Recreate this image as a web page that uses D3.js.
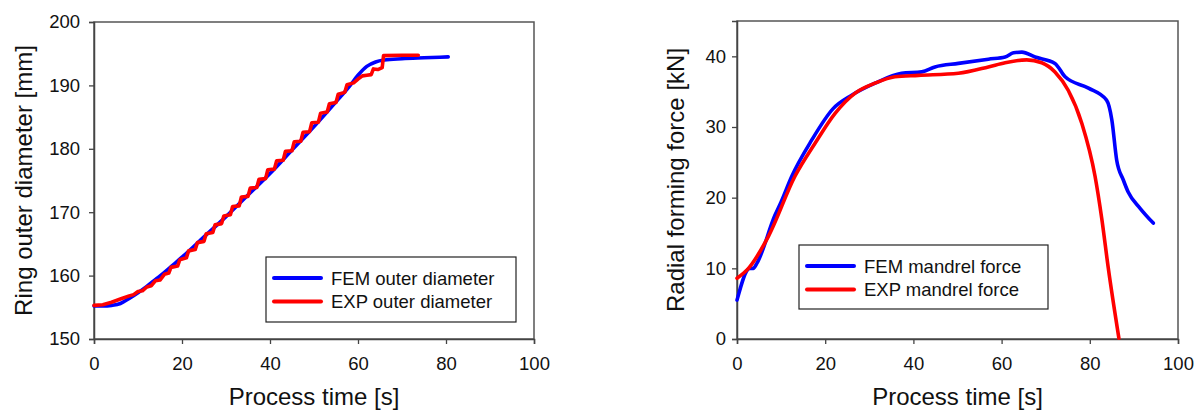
<!DOCTYPE html>
<html lang='en'>
<head>
    <meta charset='UTF-8'>
    <title>Ring rolling: diameter and mandrel force</title>
    <script src='https://d3js.org/d3.v7.min.js'></script>
    <style>
      body { margin: 0; background: #fff; }
      svg text { font-family: 'Liberation Sans', Arial, sans-serif; fill: #111; }
    </style>
</head>
<body>
<svg width='1199' height='412'></svg>

<script>
// ---- data ----
const timeTicks = [0, 20, 40, 60, 80, 100]
const diaTicks = [150, 160, 170, 180, 190, 200]
const forceTicks = [0, 10, 20, 30, 40]

// left chart: outer diameter [mm] vs process time [s]
const femDiaT = [0, 2, 4, 6, 8, 10, 12, 14, 16, 18, 20, 25, 30, 35, 40, 45, 50, 55, 58, 60, 62, 64, 66, 70, 75, 80.5]
const femDiaD = [155.2, 155.2, 155.3, 155.6, 156.4, 157.3, 158.3, 159.4, 160.5, 161.7, 162.9, 166.1, 169.3, 172.7, 176.1, 179.8, 183.5, 187.4, 189.8, 191.6, 193.0, 193.7, 194.0, 194.2, 194.35, 194.5]

const expDiaT = [0, 2, 4, 6, 8, 9, 10, 11, 12, 13, 14, 15, 16, 17, 17.5, 19, 19.5, 21, 21.5, 23, 23.5, 25, 25.5, 27, 27.5, 29, 29.5, 31, 31.5, 33, 33.5, 35, 35.5, 37, 37.5, 39, 39.5, 41, 41.5, 43, 43.5, 45, 45.5, 47, 47.5, 49, 49.5, 51, 51.5, 53, 53.5, 55, 55.5, 57, 57.5, 59, 60, 61, 62, 63, 63.5, 64.5, 65.5, 65.8, 70, 73.7]
const expDiaD = [155.3, 155.4, 155.8, 156.3, 156.8, 157.0, 157.5, 157.6, 158.2, 158.4, 159.2, 159.3, 160.2, 160.4, 161.3, 161.5, 162.5, 162.8, 163.9, 164.1, 165.2, 165.4, 166.6, 166.8, 168.0, 168.2, 169.4, 169.6, 170.9, 171.0, 172.4, 172.5, 173.8, 173.9, 175.2, 175.3, 176.7, 176.8, 178.1, 178.2, 179.6, 179.7, 181.1, 181.2, 182.6, 182.7, 184.1, 184.2, 185.6, 185.8, 187.1, 187.3, 188.6, 188.9, 190.1, 190.4, 191.0, 191.5, 191.6, 191.7, 192.6, 192.5, 192.8, 194.7, 194.75, 194.75]

// right chart: radial forming force [kN] vs process time [s]
const femForceT = [0, 2.9, 3.7, 4.5, 8.6, 10, 12.4, 16.9, 21.8, 26, 31.3, 37.3, 41.9, 44.9, 50.2, 57, 60.8, 62.7, 64.6, 67.6, 72.1, 74.4, 79.7, 83.8, 85, 86.1, 87.6, 88.7, 91.4, 94.4]
const femForceF = [5.5, 10.0, 10.0, 10.7, 17.5, 19.4, 23.0, 28.1, 32.6, 34.5, 36.2, 37.6, 37.8, 38.5, 39.0, 39.6, 39.9, 40.5, 40.6, 39.9, 39.0, 37.1, 35.5, 33.8, 31.0, 25.3, 22.5, 20.8, 18.5, 16.4]

const expForceT = [0, 2.6, 7.1, 13.2, 17.7, 22.2, 26.8, 31.3, 35.8, 41.1, 50.2, 57, 60.8, 65.7, 69.1, 72.1, 75.1, 78.2, 81.2, 82.7, 84.2, 86.6]
const expForceF = [8.6, 10.0, 14.5, 23.1, 27.7, 31.9, 34.8, 36.2, 37.1, 37.3, 37.6, 38.5, 39.1, 39.5, 39.1, 37.8, 35.2, 30.5, 23.0, 17.1, 10.0, 0.1]

const svg = d3.select('svg')

// draws one framed chart with two curves and a legend
function drawPanel(opt) {
  let x = d3.scaleLinear().domain([0, 100]).range([opt.left, opt.right])
  let y = d3.scaleLinear().domain(opt.yDomain).range([opt.bottom, opt.top])
  let g = svg.append('g')

  // frame (top + right)
  g.append('rect')
    .attr('x', opt.left).attr('y', opt.top)
    .attr('width', opt.right - opt.left).attr('height', opt.bottom - opt.top)
    .attr('fill', 'none').attr('stroke', '#555').attr('stroke-width', 1.5)

  let xAxis = g.append('g')
    .attr('transform', `translate(0,${opt.bottom})`)
    .call(d3.axisBottom(x).tickValues(timeTicks).tickSize(5).tickPadding(13))
  let yAxis = g.append('g')
    .attr('transform', `translate(${opt.left},0)`)
    .call(d3.axisLeft(y).tickValues(opt.yTicks).tickSize(5).tickPadding(opt.yPad))
  ;[xAxis, yAxis].forEach(a => {
    a.select('.domain').attr('stroke', '#444').attr('stroke-width', 1.5)
    a.selectAll('.tick line').attr('stroke', '#444').attr('stroke-width', 1.3)
    a.selectAll('.tick text').attr('font-size', 18.5).attr('fill', '#111')
      .style('font-family', "'Liberation Sans', Arial, sans-serif")
  })

  let series = [
    { t: opt.blueT, v: opt.blueV, color: '#0000ff', curve: opt.blueCurve },
    { t: opt.redT, v: opt.redV, color: '#ff0000', curve: opt.redCurve }
  ]
  series.forEach(s => {
    let line = d3.line()
      .x(i => x(s.t[i])).y(i => y(s.v[i]))
      .curve(s.curve)
    g.append('path')
      .attr('d', line(d3.range(s.t.length)))
      .attr('fill', 'none').attr('stroke', s.color)
      .attr('stroke-width', 3.6).attr('stroke-linejoin', 'round').attr('stroke-linecap', 'round')
  })

  // axis titles
  g.append('text')
    .attr('x', (opt.left + opt.right) / 2).attr('y', 405)
    .attr('text-anchor', 'middle').attr('font-size', 24)
    .text('Process time [s]')
  g.append('text')
    .attr('transform', `translate(${opt.yLabelX},${(opt.top + opt.bottom) / 2}) rotate(-90)`)
    .attr('text-anchor', 'middle').attr('font-size', 24)
    .text(opt.yLabel)

  // legend
  let lg = opt.legend
  g.append('rect')
    .attr('x', lg.x).attr('y', lg.y).attr('width', lg.w).attr('height', lg.h)
    .attr('fill', '#fff').attr('stroke', '#222').attr('stroke-width', 1.2)
  lg.labels.forEach((lab, i) => {
    let ly = lg.y + 21 + i * 23.5
    g.append('line')
      .attr('x1', lg.x + 8).attr('x2', lg.x + 55).attr('y1', ly).attr('y2', ly)
      .attr('stroke', series[i].color).attr('stroke-width', 4).attr('stroke-linecap', 'round')
    g.append('text')
      .attr('x', lg.x + 65).attr('y', ly + 6.5)
      .attr('font-size', 18.5)
      .text(lab)
  })
}

drawPanel({
  left: 94, right: 534, top: 22, bottom: 339,
  yDomain: [150, 200], yTicks: diaTicks, yPad: 9,
  yLabel: 'Ring outer diameter [mm]', yLabelX: 32,
  blueT: femDiaT, blueV: femDiaD, blueCurve: d3.curveMonotoneX,
  redT: expDiaT, redV: expDiaD, redCurve: d3.curveLinear,
  legend: { x: 266, y: 257, w: 250, h: 65, labels: ['FEM outer diameter', 'EXP outer diameter'] }
})

drawPanel({
  left: 737, right: 1178, top: 21, bottom: 339,
  yDomain: [0, 45], yTicks: forceTicks, yPad: 6,
  yLabel: 'Radial forming force [kN]', yLabelX: 684,
  blueT: femForceT, blueV: femForceF, blueCurve: d3.curveMonotoneX,
  redT: expForceT, redV: expForceF, redCurve: d3.curveMonotoneX,
  legend: { x: 799, y: 245, w: 249, h: 64, labels: ['FEM mandrel force', 'EXP mandrel force'] }
})
</script>
</body>
</html>
